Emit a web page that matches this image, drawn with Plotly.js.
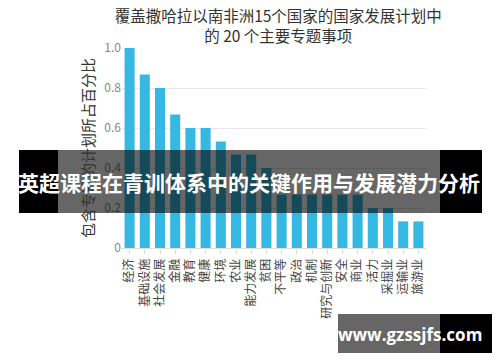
<!DOCTYPE html>
<html>
<head>
<meta charset="utf-8">
<script src="https://cdn.plot.ly/plotly-3.0.1.min.js"></script>
<style>
html,body{margin:0;padding:0;background:#fff;}
#chart{width:500px;height:362px;}
</style>
</head>
<body>
<div id="chart"></div>
<script>
var categories = ["经济","基础设施","社会发展","金融","教育","健康","环境","农业","能力发展","贫困","不平等","政治","机制","研究与创新","安全","商业","活力","采掘业","运输业","旅游业"];
var shares = [1.0,0.867,0.8,0.667,0.6,0.6,0.533,0.467,0.467,0.4,0.267,0.267,0.267,0.267,0.267,0.267,0.2,0.2,0.133,0.133];
var yTickVals = [0,0.2,0.4,0.6,0.8,1.0];
var yTickText = ["0","0.2","0.4","0.6","0.8","1.0"];
var chartTitle = "覆盖撒哈拉以南非洲15个国家的国家发展计划中<br>的 20 个主要专题事项";
var yTitle = "包含专题的计划所占百分比";
var bannerText = "英超课程在青训体系中的关键作用与发展潜力分析";
var watermarkText = "www.gzssjfs.com";

var W = 500, H = 362;
var M = {l:122, r:74, t:48, b:114};
var pw = W - M.l - M.r, ph = H - M.t - M.b;
function px(x){ return (x - M.l)/pw; }
function py(y){ return (H - M.b - y)/ph; }

var font = "'Noto Sans CJK SC', 'Noto Sans', sans-serif";

var trace = {
  type: 'bar',
  x: categories,
  y: shares,
  marker: {color: '#35b8e1'},
  hoverinfo: 'none'
};

function rect(x0,x1,y0,y1,color){
  return {type:'rect', xref:'paper', yref:'paper', layer:'above',
    x0:px(x0), x1:px(x1), y0:py(y1), y1:py(y0),
    fillcolor:color, line:{width:0}};
}

var layout = {
  width: W, height: H,
  margin: M,
  paper_bgcolor: '#fff', plot_bgcolor: '#fff',
  showlegend: false,
  bargap: 0.34,
  font: {family: font, color: '#333'},
  title: {
    text: chartTitle,
    font: {family: font, size: 15.5, color: '#333'},
    x: 257/W, xanchor: 'center', xref: 'paper',
    y: 1 - 22/H, yanchor: 'middle', yref: 'container'
  },
  xaxis: {
    type: 'category',
    tickangle: -90,
    tickfont: {family: font, size: 12, color: '#444'},
    ticks: 'outside', ticklen: 5, tickcolor: '#ddd',
    showline: false, showgrid: false, zeroline: false
  },
  yaxis: {
    range: [0, 1.0],
    tickvals: yTickVals, ticktext: yTickText,
    tickfont: {family: font, size: 12, color: '#888'},
    gridcolor: '#e6e6e6', gridwidth: 1,
    zeroline: true, zerolinecolor: '#e0e0e0', zerolinewidth: 1,
    showline: false, ticks: '',
    title: {text: yTitle, font: {family: font, size: 15, color: '#333'}, standoff: 6}
  },
  shapes: [
    rect(19,58,150,213,'#000'),
    rect(58,440,150,213,'rgba(0,0,0,0.6)'),
    rect(440,482,150,213,'#000'),
    rect(338,440,314,353,'rgba(0,0,0,0.6)'),
    rect(440,492,314,353,'#000')
  ],
  annotations: [
    {text: bannerText, xref:'paper', yref:'paper', x: px(249), y: py(182),
     xanchor:'center', yanchor:'middle', showarrow:false,
     font:{family: font, size: 21, color:'#fff', weight: 'bold'}},
    {text: watermarkText, xref:'paper', yref:'paper', x: px(410), y: py(334),
     xanchor:'center', yanchor:'middle', showarrow:false,
     font:{family: "'Open Sans', 'Noto Sans', sans-serif", size: 17, color:'#fff', weight: 'bold'}}
  ]
};

Plotly.newPlot('chart', [trace], layout, {displayModeBar: false, staticPlot: true});
</script>
</body>
</html>
